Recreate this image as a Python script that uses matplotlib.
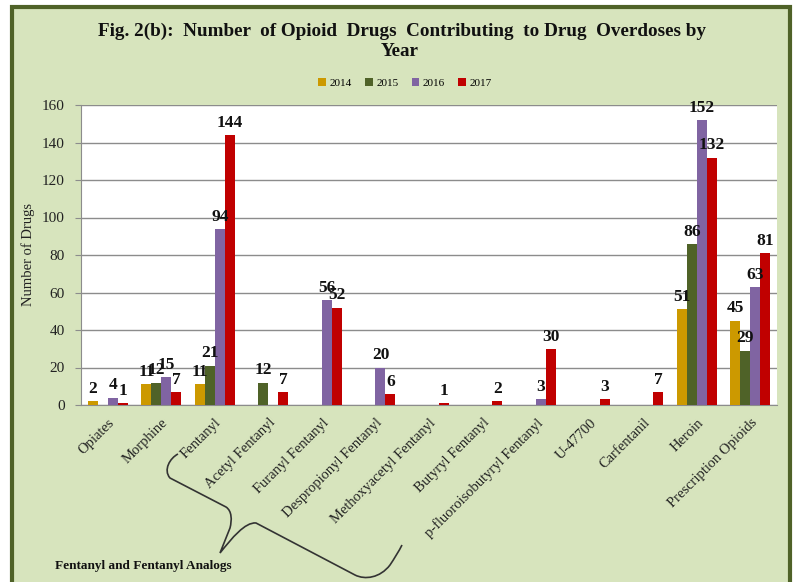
import numpy as np
import matplotlib
matplotlib.use("Agg")
import matplotlib.pyplot as plt
from matplotlib.path import Path
from matplotlib.patches import PathPatch, Rectangle, Patch

# chart data
drugs = ["Opiates", "Morphine", "Fentanyl", "Acetyl Fentanyl", "Furanyl Fentanyl",
         "Despropionyl Fentanyl", "Methoxyacetyl Fentanyl", "Butyryl Fentanyl",
         "p-fluoroisobutyryl Fentanyl", "U-47700", "Carfentanil", "Heroin",
         "Prescription Opioids"]
years = ["2014", "2015", "2016", "2017"]
counts_2014 = [2, 11, 11, 0, 0, 0, 0, 0, 0, 0, 0, 51, 45]
counts_2015 = [0, 12, 21, 12, 0, 0, 0, 0, 0, 0, 0, 86, 29]
counts_2016 = [4, 15, 94, 0, 56, 20, 0, 0, 3, 0, 0, 152, 63]
counts_2017 = [1, 7, 144, 7, 52, 6, 1, 2, 30, 3, 7, 132, 81]

colors = ["#cc9900", "#4f6228", "#8064a2", "#c00000"]
BG = "#d7e4bd"
BORDER = "#4f6228"
W, H = 796, 582

plt.rcParams["font.family"] = ["Liberation Serif", "DejaVu Serif"]

fig = plt.figure(figsize=(W / 100, H / 100), dpi=100, facecolor="white")


def px(x, y):
    return (x / W, 1 - y / H)


# green panel with dark border, kept behind the axes
fig.patches.append(Rectangle(px(12, 640), 778 / W, 633 / H, transform=fig.transFigure,
                             facecolor=BG, edgecolor=BORDER, linewidth=3, zorder=-5))

ax = fig.add_axes([81 / W, 1 - 405 / H, 696 / W, 300 / H])
ax.set_zorder(1)
ax.set_facecolor("white")

series = [counts_2014, counts_2015, counts_2016, counts_2017]
x = np.arange(len(drugs))
w = 0.186
for i, (yr, vals) in enumerate(zip(years, series)):
    pos = x + (i - 1.5) * w
    vals = np.array(vals)
    bars = ax.bar(pos, vals, width=w, color=colors[i], zorder=3)
    for b, v in zip(bars, vals):
        if v == 0:
            b.set_visible(False)
            continue
        ax.annotate(str(v), (b.get_x() + b.get_width() / 2, v), xytext=(0, 3),
                    textcoords="offset points", ha="center", va="bottom",
                    fontsize=12.5, fontweight="bold", color="#111111", zorder=4,
                    annotation_clip=False)

ax.set_xlim(-0.5, len(drugs) - 0.5)
ax.set_ylim(0, 160)
ax.set_yticks(range(0, 161, 20))
ax.yaxis.grid(True, color="#8c8c8c", linewidth=1, zorder=0)
ax.set_axisbelow(True)
for s in ["top", "right"]:
    ax.spines[s].set_visible(False)
ax.spines["left"].set_color("#8c8c8c")
ax.spines["bottom"].set_color("#8c8c8c")
ax.tick_params(axis="y", length=4.5, color="#8c8c8c", labelsize=11, pad=7, labelcolor="#222222")
ax.tick_params(axis="x", length=0, pad=8)
ax.set_xticks(x)
ax.set_xticklabels(drugs, rotation=45, ha="right", rotation_mode="anchor",
                   fontsize=10.5, color="#222222")
ax.set_ylabel("Number of Drugs", fontsize=10.5, color="#222222", labelpad=5)

fig.text(402 / W, 1 - 31 / H,
         "Fig. 2(b):  Number  of Opioid  Drugs  Contributing  to Drug  Overdoses by",
         ha="center", va="center", fontsize=13.8, fontweight="bold", color="#111111")
fig.text(400 / W, 1 - 51 / H, "Year", ha="center", va="center", fontsize=13.8,
         fontweight="bold", color="#111111")

handles = [Patch(facecolor=c, label=yr) for c, yr in zip(colors, years)]
ax.legend(handles=handles, loc="center", bbox_to_anchor=(px(405, 83)),
          bbox_transform=fig.transFigure, ncol=4, frameon=False, fontsize=8,
          handlelength=0.7, handleheight=0.7, handletextpad=0.3, columnspacing=1.2)

# brace grouping the fentanyl analogs
verts = [px(178, 454), px(170, 458), px(163, 470), px(170, 478),
         px(226, 507),
         px(232, 511), px(232, 520), px(230, 528),
         px(220, 553),
         px(232, 538), px(245, 522), px(256, 523),
         px(355, 575),
         px(365, 580), px(380, 578), px(390, 565),
         px(394, 559), px(399, 551), px(402, 545)]
codes = [Path.MOVETO, Path.CURVE4, Path.CURVE4, Path.CURVE4,
         Path.LINETO,
         Path.CURVE4, Path.CURVE4, Path.CURVE4,
         Path.LINETO,
         Path.CURVE4, Path.CURVE4, Path.CURVE4,
         Path.LINETO,
         Path.CURVE4, Path.CURVE4, Path.CURVE4,
         Path.CURVE4, Path.CURVE4, Path.CURVE4]
fig.patches.append(PathPatch(Path(verts, codes), transform=fig.transFigure,
                             facecolor="none", edgecolor="#333333", linewidth=1.2))
fig.text(55 / W, 1 - 566 / H, "Fentanyl and Fentanyl Analogs", ha="left", va="center",
         fontsize=9.5, fontweight="bold", color="#111111")

fig.savefig("out.png", dpi=100, facecolor="white")
